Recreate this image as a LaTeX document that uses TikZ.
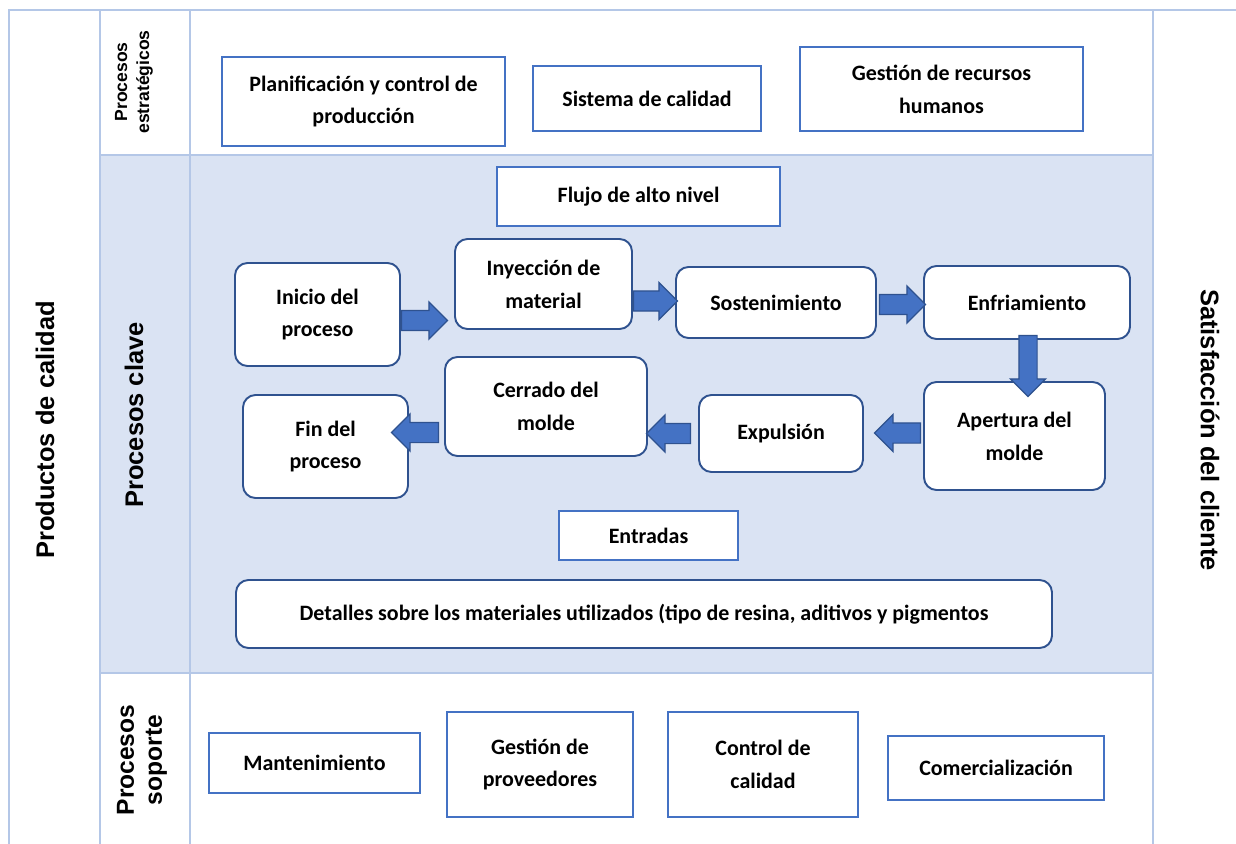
\documentclass[tikz,border=0pt]{standalone}
\usepackage{fontspec}
\usetikzlibrary{shapes.arrows,calc}
\newfontfamily\carlito{Carlito}
\newfontfamily\arialfont{Liberation Sans}
\definecolor{marco}{RGB}{180,199,231}
\definecolor{fondo}{RGB}{218,227,243}
\definecolor{azul}{RGB}{68,114,196}
\definecolor{azuloscuro}{RGB}{47,82,143}
\newcommand{\pxu}{0.02cm}

\begin{document}
\begin{tikzpicture}[x=0.02cm, y=-0.02cm,
	recto/.style={draw=azul, line width=1.3pt, fill=white, align=center, inner sep=0pt,
		font=\carlito\bfseries\fontsize{12.5}{18.7}\selectfont},
	redondo/.style={recto, draw=azuloscuro, line width=1.1pt, rounded corners=0.25cm},
	flecha/.style={single arrow, draw=azuloscuro, fill=azul, line width=0.7pt, inner xsep=0pt, inner ysep=0.19cm,
		single arrow head extend=0.17cm, minimum height=0.92cm},
	lado/.style={font=\arialfont\bfseries\fontsize{14.5}{17}\selectfont, align=center}]
	\useasboundingbox (0,0) rectangle (1236,844);
	\fill[fondo] (100,155) rectangle (1153,673);
	\draw[marco, line width=1pt] (9,844) -- (9,10) -- (1236,10);
	\foreach \x in {100,190,1153} \draw[marco, line width=1pt] (\x,10) -- (\x,844);
	\foreach \y in {155,673} \draw[marco, line width=1.3pt] (100,\y) -- (1153,\y);

	\node[lado, rotate=90] (prod) at (45,430) {Productos de calidad};
	\node[lado, rotate=90] (clave) at (134,415) {Procesos clave};
	\node[lado, rotate=-90] (satis) at (1210,430) {Satisfacción del cliente};
	\node[lado, rotate=90, font=\arialfont\bfseries\fontsize{10}{12.5}\selectfont] (estrat) at (134,82) {Procesos\\estratégicos};
	\node[lado, rotate=90, font=\arialfont\bfseries\fontsize{14}{16}\selectfont] (soporte) at (142,760) {Procesos\\soporte};

	\node[recto, minimum width=283*\pxu, minimum height=89*\pxu] (plan) at (363.5,101.5) {Planificación y control de\\producción};
	\node[recto, minimum width=228*\pxu, minimum height=65*\pxu] (sistema) at (647,98.5) {Sistema de calidad};
	\node[recto, minimum width=283*\pxu, minimum height=84*\pxu] (rrhh) at (941.5,89) {Gestión de recursos\\humanos};
	\node[recto, minimum width=283*\pxu, minimum height=59*\pxu] (flujo) at (638.5,196.5) {Flujo de alto nivel};

	\node[redondo, minimum width=165*\pxu, minimum height=103*\pxu] (inicio) at (317.5,314.5) {Inicio del\\proceso};
	\node[redondo, minimum width=177*\pxu, minimum height=90*\pxu] (inyeccion) at (543.5,284) {Inyección de\\material};
	\node[redondo, minimum width=200*\pxu, minimum height=71*\pxu] (sosten) at (776,302.5) {Sostenimiento};
	\node[redondo, minimum width=206*\pxu, minimum height=73*\pxu] (enfria) at (1027,302.5) {Enfriamiento};
	\node[redondo, minimum width=181*\pxu, minimum height=108*\pxu] (apertura) at (1014.5,436) {Apertura del\\molde};
	\node[redondo, minimum width=164*\pxu, minimum height=77*\pxu] (expulsion) at (781,433.5) {Expulsión};
	\node[redondo, minimum width=202*\pxu, minimum height=99*\pxu] (cerrado) at (546,406.5) {Cerrado del\\molde};
	\node[redondo, minimum width=165*\pxu, minimum height=103*\pxu] (fin) at (325.5,446.5) {Fin del\\proceso};

	\node[flecha, anchor=tail] (f1) at ($(inicio.east)+(0,6)$) {};
	\node[flecha, anchor=tail, minimum height=44*\pxu] (f2) at ($(inyeccion.east)+(0,17)$) {};
	\node[flecha, anchor=tail, minimum height=46*\pxu] (f3) at ($(sosten.east)+(2,2)$) {};
	\node[flecha, anchor=tail, shape border rotate=270, inner xsep=0.17cm, inner ysep=0pt, minimum height=61*\pxu] (f4) at ($(enfria.south)+(1,-5)$) {};
	\node[flecha, anchor=tail, shape border rotate=180, minimum height=46*\pxu] (f5) at ($(apertura.west)+(-2,-3)$) {};
	\node[flecha, anchor=tail, shape border rotate=180, minimum height=44*\pxu] (f6) at ($(expulsion.west)+(-7,0)$) {};
	\node[flecha, anchor=tail, shape border rotate=180, minimum height=47*\pxu] (f7) at ($(cerrado.west)+(-5,26)$) {};

	\node[recto, minimum width=179*\pxu, minimum height=49*\pxu] (entradas) at (648.5,535.5) {Entradas};
	\node[redondo, minimum width=816*\pxu, minimum height=68*\pxu] (detalles) at (644,614) {Detalles sobre los materiales utilizados (tipo de resina, aditivos y pigmentos};

	\node[recto, minimum width=211*\pxu, minimum height=60*\pxu] (mante) at (314.5,763) {Mantenimiento};
	\node[recto, minimum width=186*\pxu, minimum height=105*\pxu] (provee) at (540,764.5) {Gestión de\\proveedores};
	\node[recto, minimum width=190*\pxu, minimum height=105*\pxu] (control) at (763,764.5) {Control de\\calidad};
	\node[recto, minimum width=216*\pxu, minimum height=64*\pxu] (comerc) at (996,768) {Comercialización};
\end{tikzpicture}
\end{document}
